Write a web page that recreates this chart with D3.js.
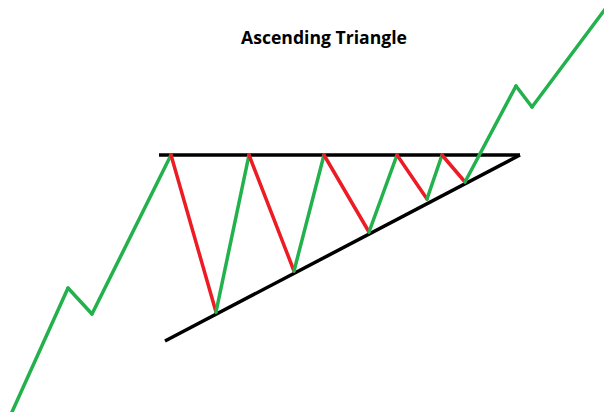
<!DOCTYPE html>
<html>
<head>
<meta charset="utf-8">
<script src="https://cdn.jsdelivr.net/npm/d3@7"></script>
<style>
  body { margin: 0; background: #fff; }
  svg { display: block; }
</style>
</head>
<body>
<svg id="chart" width="604" height="412"></svg>
<script>
// price path (time, price) and the phase of each leg
var times  = [12, 68, 92, 171, 216, 249, 294, 324, 369, 397, 427, 442, 465, 516, 532, 606];
var prices = [0, 124, 98, 257, 100, 257, 141, 257, 180, 257, 213, 257, 230, 326, 305, 404];
// leg colour: 'up' green, 'down' red (outside the triangle all legs are green)
var legs = ['up','up','up','down','up','down','up','down','up','down','up','down','up','up','up'];

// resistance and support lines
var resistT = [159, 520], resistP = [257, 257];
var supportT = [165, 520], supportP = [71, 257];

var title = 'Ascending Triangle';

var svg = d3.select('#chart');
var width = +svg.attr('width'), height = +svg.attr('height');

var xscale = d3.scaleLinear().domain([0, 604]).range([0, width]);
var yscale = d3.scaleLinear().domain([0, 412]).range([height, 0]);

var colors = {up: '#22b14c', down: '#ed1c24'};

svg.append('text')
  .attr('x', 324).attr('y', 44)
  .attr('text-anchor', 'middle')
  .style('font-family', '"Open Sans", sans-serif')
  .style('font-weight', 'bold')
  .style('font-size', '17.6px')
  .text(title);

var g = svg.append('g');

var line = d3.line().x(d => xscale(d[0])).y(d => yscale(d[1]));

g.append('path')
  .datum(d3.zip(resistT, resistP))
  .attr('d', line)
  .attr('fill', 'none').attr('stroke', '#000').attr('stroke-width', 3.5);

g.append('path')
  .datum(d3.zip(supportT, supportP))
  .attr('d', line)
  .attr('fill', 'none').attr('stroke', '#000').attr('stroke-width', 3.5);

var segs = legs.map((k, i) => ({k: k, a: [times[i], prices[i]], b: [times[i+1], prices[i+1]]}));

g.selectAll('line.leg').data(segs)
  .enter()
  .append('line')
  .attr('class', 'leg')
  .attr('x1', d => xscale(d.a[0])).attr('y1', d => yscale(d.a[1]))
  .attr('x2', d => xscale(d.b[0])).attr('y2', d => yscale(d.b[1]))
  .attr('stroke', d => colors[d.k])
  .attr('stroke-width', 3.5)
  .attr('stroke-linecap', 'round');
</script>
</body>
</html>
